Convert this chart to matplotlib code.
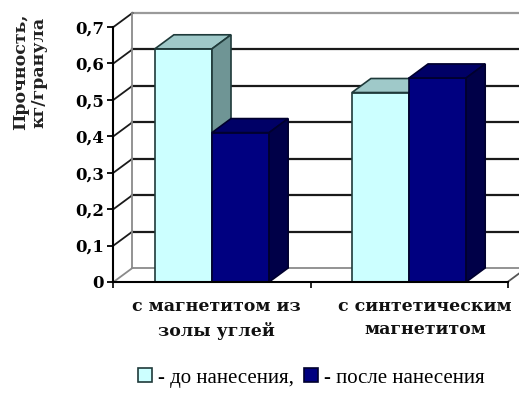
import matplotlib.pyplot as plt
from matplotlib.patches import Polygon

plt.rcParams['font.family'] = ['Liberation Serif', 'DejaVu Serif']

categories = ['с магнетитом из\nзолы углей', 'с синтетическим\nмагнетитом']
before = [0.64, 0.52]   # до нанесения
after = [0.41, 0.56]    # после нанесения
series = ['- до нанесения,', '- после нанесения']
y_ticks = [0, 0.1, 0.2, 0.3, 0.4, 0.5, 0.6, 0.7]
y_tick_labels = ['0', '0,1', '0,2', '0,3', '0,4', '0,5', '0,6', '0,7']
y_title = 'Прочность,\nкг/гранула'

fig = plt.figure(figsize=(5.19, 4.0), dpi=100)
ax = fig.add_axes([0, 0, 1, 1])
ax.set_xlim(-1.076, 1.558)
ax.set_ylim(-0.324, 0.774)
ax.patch.set_visible(False)

# смещение глубины для псевдо-объёма
dx, dy = 0.0964, 0.0385
bar_w = 0.29
x0, x1 = -0.5, len(categories) - 0.5
top = y_ticks[-1]

# задняя стенка с сеткой
for v in y_ticks[1:]:
    c = '#9a9a9a' if v == top else '#1a1a1a'
    ax.plot([x0 + dx, x1 + dx], [v + dy, v + dy], color=c, lw=1.6, zorder=1)
    ax.plot([x0, x0 + dx], [v, v + dy], color='#1a1a1a', lw=1.3, zorder=1)
# боковая стенка и пол
ax.plot([x0 + dx, x0 + dx], [dy, top + dy], color='#8a8a8a', lw=1.3, zorder=1)
ax.plot([x0, x0 + dx], [0, dy], color='#8a8a8a', lw=1.3, zorder=1)
ax.plot([x0 + dx, x1 + dx], [dy, dy], color='#8a8a8a', lw=1.3, zorder=1)
ax.plot([x1, x1 + dx], [0, dy], color='#555555', lw=1.3, zorder=1)


def box(xs, heights, front, topc, side, edge, z):
    bars = ax.bar(xs, heights, bar_w, align='edge', color=front,
                  edgecolor=edge, lw=1.2, zorder=z)
    for x, h in zip(xs, heights):
        ax.add_patch(Polygon([(x, h), (x + dx, h + dy), (x + bar_w + dx, h + dy),
                              (x + bar_w, h)], closed=True, fc=topc, ec=edge,
                             lw=1.2, zorder=z))
        ax.add_patch(Polygon([(x + bar_w, 0), (x + bar_w + dx, dy),
                              (x + bar_w + dx, h + dy), (x + bar_w, h)],
                             closed=True, fc=side, ec=edge, lw=1.2, zorder=z))
    return bars


pos = list(range(len(categories)))
light = box([p - bar_w for p in pos], before, '#ccffff', '#9fc9c9', '#6f9595',
            '#1f3a3a', 3)
dark = box(pos, after, '#000080', '#000066', '#000048', '#00002e', 4)

# передняя ось значений
for s in ['top', 'right']:
    ax.spines[s].set_visible(False)
ax.spines['left'].set_position(('data', x0))
ax.spines['left'].set_bounds(0, top)
ax.spines['bottom'].set_position(('data', 0))
ax.spines['bottom'].set_bounds(x0, x1)
for s in ['left', 'bottom']:
    ax.spines[s].set_linewidth(1.5)
    ax.spines[s].set_zorder(6)
ax.set_yticks(y_ticks)
ax.set_yticklabels(y_tick_labels, family='DejaVu Serif', fontweight='bold',
                   fontsize=12)
ax.tick_params(axis='y', direction='out', length=4, width=1.3, pad=3)
ax.set_xticks([x0, 0.5, x1])
ax.set_xticklabels([])
ax.tick_params(axis='x', direction='out', length=4, width=1.2)

label_x = [0.02, 1.08]
for lx, name in zip(label_x, categories):
    ax.text(lx, -0.045, name, ha='center', va='top', family='DejaVu Serif',
            fontweight='bold', fontsize=12.5, color='#111111', linespacing=1.45)

fig.text(0.058, 0.82, y_title, rotation=90, ha='center', va='center',
         family='DejaVu Serif', fontweight='bold', fontsize=12.5,
         multialignment='center', color='#222222', linespacing=1.1)

fig.legend([light, dark], series, loc='center', bbox_to_anchor=(0.6, 0.055),
           ncol=2, frameon=False, fontsize=15, handlelength=0.65,
           handleheight=0.65, handletextpad=0.3, columnspacing=0.5)

fig.savefig('out.png', dpi=100)
